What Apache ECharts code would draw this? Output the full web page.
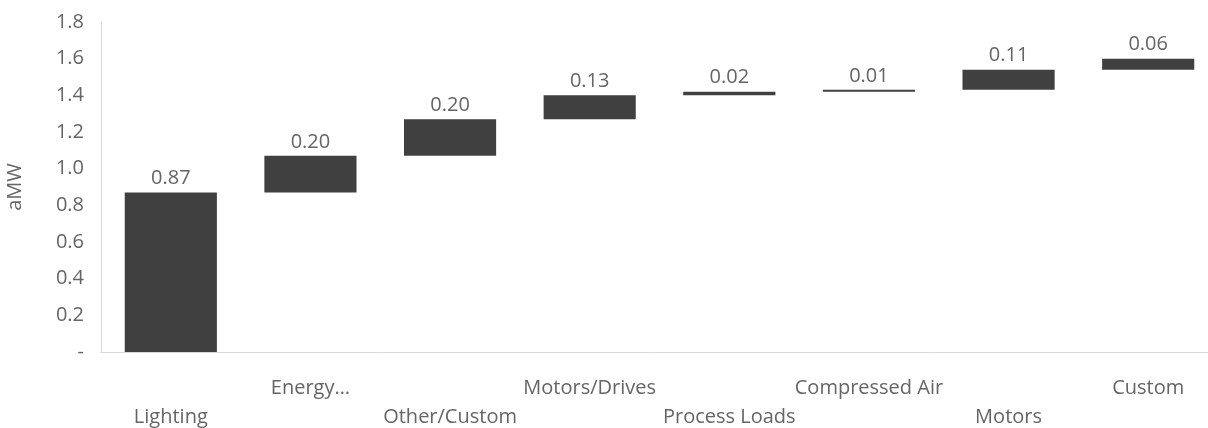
<!DOCTYPE html>
<html>
<head>
<meta charset="utf-8">
<script src="https://cdn.jsdelivr.net/npm/echarts@6/dist/echarts.min.js"></script>
<style>
  html, body { margin: 0; padding: 0; background: #ffffff; }
  #chart { width: 1208px; height: 428px; }
</style>
</head>
<body>
<div id="chart"></div>
<script>
// End-use categories and their savings increments (aMW)
const categories = ['Lighting', 'Energy…', 'Other/Custom', 'Motors/Drives', 'Process Loads', 'Compressed Air', 'Motors', 'Custom'];
const increments = [0.87, 0.20, 0.20, 0.13, 0.02, 0.01, 0.11, 0.06];
const yTicks = { min: 0, max: 1.8, interval: 0.2 };

// Waterfall: each bar floats on the running total of the previous ones
const bases = [];
let running = 0;
for (const v of increments) {
  bases.push(+running.toFixed(4));
  running += v;
}

const textColor = '#656565';
const fontFamily = '"Open Sans", "Liberation Sans", sans-serif';
const fontSize = 20;

const chart = echarts.init(document.getElementById('chart'), null, { renderer: 'canvas' });
chart.setOption({
  animation: false,
  backgroundColor: '#ffffff',
  grid: { left: 101, width: 1117, top: 22, bottom: 76, containLabel: false, outerBoundsMode: 'none' },
  xAxis: {
    type: 'category',
    data: categories,
    axisLine: { show: true, lineStyle: { color: '#d9d9d9', width: 1 } },
    axisTick: { show: false },
    splitLine: { show: false },
    axisLabel: {
      interval: 0,
      margin: 22,
      color: textColor,
      fontFamily: fontFamily,
      fontSize: fontSize,
      lineHeight: 29,
      verticalAlign: 'top',
      formatter: (name, idx) => (idx % 2 === 1 ? name + '\n ' : ' \n' + name)
    }
  },
  yAxis: {
    type: 'value',
    min: yTicks.min,
    max: yTicks.max,
    interval: yTicks.interval,
    name: 'aMW',
    nameLocation: 'middle',
    nameGap: 76,
    nameRotate: 90,
    nameTextStyle: { color: textColor, fontFamily: fontFamily, fontSize: fontSize },
    axisLine: { show: true, lineStyle: { color: '#d9d9d9', width: 1 } },
    axisTick: { show: false },
    splitLine: { show: false },
    axisLabel: {
      margin: 17,
      color: textColor,
      fontFamily: fontFamily,
      fontSize: fontSize,
      formatter: v => (Math.abs(v) < 1e-9 ? '-' : v.toFixed(1))
    }
  },
  series: [
    {
      name: 'base',
      type: 'bar',
      stack: 'total',
      barWidth: '66%',
      silent: true,
      itemStyle: { color: 'rgba(0,0,0,0)' },
      data: bases
    },
    {
      name: 'increment',
      type: 'bar',
      stack: 'total',
      barWidth: '66%',
      itemStyle: { color: '#404040' },
      label: {
        show: true,
        position: 'top',
        distance: 4,
        color: textColor,
        fontFamily: fontFamily,
        fontSize: fontSize,
        formatter: p => p.value.toFixed(2)
      },
      data: increments
    }
  ]
});
</script>
</body>
</html>
